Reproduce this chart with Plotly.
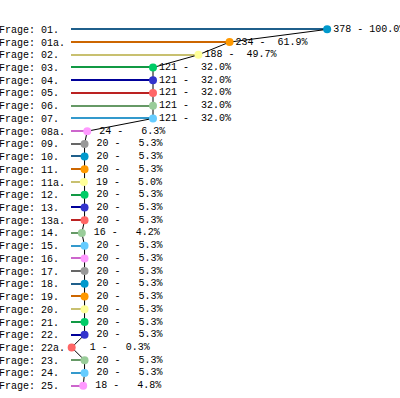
import plotly.graph_objects as go

categories = ["01.", "01a.", "02.", "03.", "04.", "05.", "06.", "07.", "08a.", "09.",
              "10.", "11.", "11a.", "12.", "13.", "13a.", "14.", "15.", "16.", "17.",
              "18.", "19.", "20.", "21.", "22.", "22a.", "23.", "24.", "25."]
counts = [378, 234, 188, 121, 121, 121, 121, 121, 24, 20,
          20, 20, 19, 20, 20, 20, 16, 20, 20, 20,
          20, 20, 20, 20, 20, 1, 20, 20, 18]
total = 378

marker_palette = ["#0099cc", "#ff9900", "#ffff99", "#00cc66", "#3333cc",
                  "#ff6666", "#99cc99", "#66ccff", "#ff99ff", "#999999"]
stem_palette = ["#1f5f8b", "#cc6600", "#c8c070", "#119944", "#000099",
                "#bb2222", "#669966", "#3399cc", "#cc66cc", "#666666"]

NB = "\u00a0"
labels = [("Frage: " + c).ljust(11).replace(" ", NB) for c in categories]
texts = [f"{v:3d} - {v / total * 100:5.1f}%".replace(" ", NB) for v in counts]
mcolors = [marker_palette[i % 10] for i in range(len(counts))]
scolors = [stem_palette[i % 10] for i in range(len(counts))]

font = dict(family="Liberation Mono, DejaVu Sans Mono, monospace", size=10, color="#000000")

fig = go.Figure()
fig.add_trace(go.Bar(
    x=counts, y=labels, orientation="h", width=0.1,
    marker=dict(color=scolors, line=dict(width=0)),
    hoverinfo="skip", showlegend=False,
))
fig.add_trace(go.Scatter(
    x=counts, y=labels, mode="lines+markers+text",
    line=dict(color="#000000", width=1),
    marker=dict(color=mcolors, size=8, line=dict(width=0)),
    text=texts, textposition="middle right", textfont=font,
    cliponaxis=False, showlegend=False,
))
fig.update_layout(
    width=400, height=398,
    margin=dict(l=71, r=0, t=23, b=6, autoexpand=False),
    paper_bgcolor="#ffffff", plot_bgcolor="#ffffff",
    font=font,
    xaxis=dict(range=[0, 485.5], showgrid=False, zeroline=False,
               showticklabels=False, showline=False, ticks="", automargin=False),
    yaxis=dict(range=[len(categories) - 0.5, -0.5], showgrid=False, zeroline=False,
               showline=False, ticks="", tickfont=font, ticklabelstandoff=5,
               tickmode="array", tickvals=labels, ticktext=labels, automargin=False),
    bargap=0,
)
fig.write_html("out.html",
               config={"displayModeBar": False},
               post_script="document.body.style.margin='0';document.body.style.overflow='hidden';")
